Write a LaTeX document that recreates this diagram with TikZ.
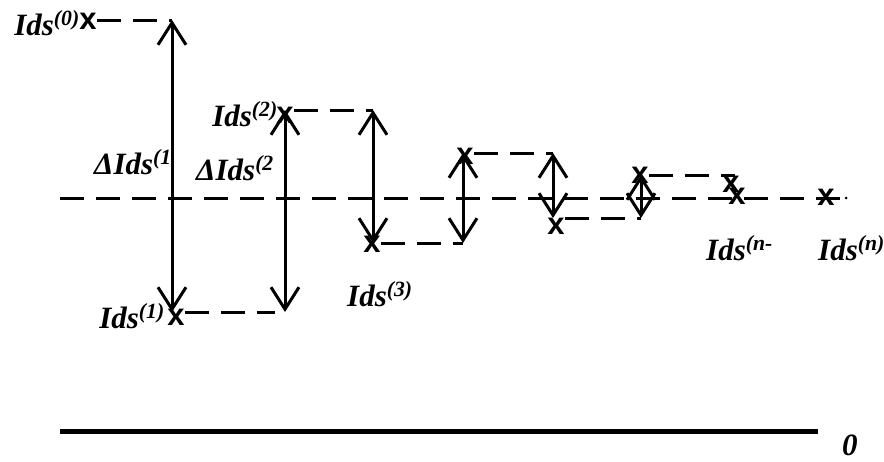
\documentclass[tikz,border=0pt]{standalone}
\usepackage{fontspec}
\setmainfont{Liberation Serif}
\newfontfamily\markfont{Liberation Sans}
\usetikzlibrary{arrows.meta}

\tikzset{
  lbl/.style={font=\fontsize{31}{32}\selectfont\bfseries\itshape, inner sep=0pt},
  xmark/.style={font=\fontsize{31}{31}\selectfont\markfont\bfseries, inner sep=0pt},
  dsh/.style={line width=3pt, dash pattern=on 24pt off 12pt},
  dbl/.style={line width=3pt, {Straight Barb[length=22pt,width=28pt,line width=3pt]}-{Straight Barb[length=22pt,width=28pt,line width=3pt]}}
}

\begin{document}
\begin{tikzpicture}[x=1pt, y=-1pt]
    \useasboundingbox (0,0) rectangle (884,461);

    % labels
    \node[lbl, anchor=base east] (l0) at (80,35) {Ids\textsuperscript{(0)}};
    \node[lbl, anchor=base east] (l1) at (165,328) {Ids\textsuperscript{(1)}};
    \node[lbl, anchor=base east] (l2) at (278,126) {Ids\textsuperscript{(2)}};
    \node[lbl, anchor=base west] (l3) at (347,306) {Ids\textsuperscript{(3)}};
    \node[lbl, anchor=base west] (ln1) at (706,260) {Ids\textsuperscript{(n-}};
    \node[lbl, anchor=base west] (ln) at (818,260) {Ids\textsuperscript{(n)}};
    \node[lbl, anchor=base east] (d1) at (172,174) {ΔIds\textsuperscript{(1}};
    \node[lbl, anchor=base west] (d2) at (196,180) {ΔIds\textsuperscript{(2}};
    \node[lbl, anchor=base west] (zero) at (842,455) {0};

    % reference level
    \draw[dsh] (60,198) coordinate (r0) -- (840,198) coordinate (r1);
    \fill (846,198) circle [radius=1.5pt];

    % steps
    \foreach \x/\ya/\yb [count=\i] in {172/20/312, 285/312/110, 373/110/243,
                                       463/243/153, 553/153/218, 641/218/175} {
      \coordinate (s\i) at (\x,\ya);
      \coordinate (e\i) at (\x,\yb);
      \draw[dbl] (s\i) -- (e\i);
    }

    % iterates
    \foreach \n/\x/\y in {0/88/21, 1/176/317, 2/285/115, 3/372/244, 4/465/156,
                          5/556/226, 6/640/175, 7/731/184, 8/737/196, 9/826/197} {
      \node[xmark] (m\n) at (\x,\y) {x};
    }

    \draw[dsh] (m0.east |- s1) -- (s1);
    \draw[dsh] (m1.east |- s2) -- ([xshift=-10pt]s2);
    \draw[dsh] (m2.east |- s3) -- (s3);
    \draw[dsh] (m3.east |- s4) -- (s4);
    \draw[dsh] (m4.east |- s5) -- (s5);
    \draw[dsh] (m5.east |- s6) -- (s6);
    \draw[dsh] (m6.east |- e6) -- ([xshift=94pt]e6);

    % zero line
    \draw[line width=5pt] (60,431) -- (818,431);

    \end{tikzpicture}
\end{document}
